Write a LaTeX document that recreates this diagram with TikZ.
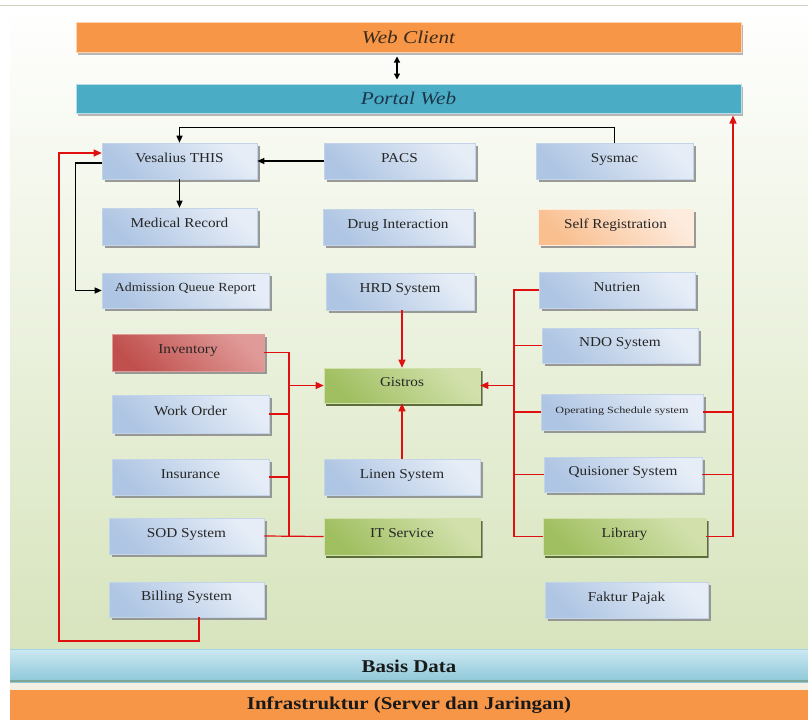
\documentclass[tikz,border=0pt]{standalone}
\usepackage{fontspec}
\setmainfont{Liberation Serif}
\newfontfamily\boxfont[FakeStretch=1.12]{Liberation Serif}
\newfontfamily\headfont[FakeStretch=1.18]{Liberation Serif Italic}
\newfontfamily\basefont[FakeStretch=1.16]{Liberation Serif Bold}
\newfontfamily\smallfont[FakeStretch=1.28]{Liberation Serif}
\usetikzlibrary{arrows.meta,shadows}

\definecolor{orangebar}{HTML}{F79646}
\definecolor{tealbar}{HTML}{4BACC6}
\definecolor{panelgreen}{HTML}{D7E4BD}
\definecolor{panelmid}{HTML}{F0F4E6}
\definecolor{boxlight}{HTML}{E6EDF7}
\definecolor{boxdark}{HTML}{AEC5E3}
\definecolor{boxedge}{HTML}{C3D3E8}
\definecolor{shadowgray}{HTML}{8A8A8A}
\definecolor{greenlight}{HTML}{D2E1AC}
\definecolor{greendark}{HTML}{A0BF60}
\definecolor{greenshadow}{HTML}{55692E}
\definecolor{redlight}{HTML}{E09A98}
\definecolor{reddark}{HTML}{C0504D}
\definecolor{peachlight}{HTML}{FDEBDD}
\definecolor{peachdark}{HTML}{F9BF8F}
\definecolor{linkred}{HTML}{E01010}
\definecolor{headtext}{HTML}{3A2A1C}
\definecolor{portaltext}{HTML}{1C3548}
\definecolor{dbtop}{HTML}{CBE7F1}
\definecolor{dbmid}{HTML}{DDEFF5}
\definecolor{dbbottom}{HTML}{8CC7D8}
\definecolor{dbline}{HTML}{7FA396}
\definecolor{creamstrip}{HTML}{F4EFE5}

\tikzset{
  sysbox/.style={rectangle, draw=boxedge, line width=0.6pt,
    top color=boxlight, bottom color=boxdark, shading angle=-45,
    drop shadow={shadow xshift=2.5pt, shadow yshift=-2.5pt, fill=shadowgray, opacity=0.85},
    text height=9pt, text depth=7pt, inner sep=0pt,
    font=\boxfont\fontsize{13.6}{16}\selectfont, text=black!85},
  greenbox/.style={sysbox, draw=greenlight, top color=greenlight, bottom color=greendark,
    shading angle=-45,
    drop shadow={shadow xshift=2pt, shadow yshift=-3pt, fill=greenshadow, opacity=0.9}},
  redbox/.style={sysbox, draw=redlight, top color=redlight, bottom color=reddark,
    shading angle=-45},
  peachbox/.style={sysbox, draw=peachlight, top color=peachlight, bottom color=peachdark,
    shading angle=-45},
  bar/.style={rectangle, line width=1pt, inner sep=0pt,
    drop shadow={shadow xshift=2pt, shadow yshift=-2.5pt, fill=black!35, opacity=0.8}},
  blackarrow/.style={draw=black, line width=1.2pt, -{Triangle[length=7pt,width=6pt]}},
  redline/.style={draw=linkred, line width=1.2pt},
  redarrow/.style={redline, -{Triangle[length=8pt,width=7pt]}},
}

\begin{document}
\begin{tikzpicture}[x=1pt,y=-1pt]
\useasboundingbox (0,0) rectangle (808,720);
\fill[white] (0,0) rectangle (808,720);

% panel background
\shade[top color=white, middle color=panelmid, bottom color=panelgreen] (10,5) rectangle (808,650);
\draw[color=panelgreen!80!black!60, line width=1pt] (0,5) -- (808,5);

% top layers
\node[bar, fill=orangebar, draw=orangebar!40!white, minimum width=665, minimum height=30,
      font=\headfont\fontsize{18}{20}\selectfont, text=headtext] (client) at (408.5,37) {Web Client};
\node[bar, fill=tealbar, draw=tealbar!40!white, minimum width=665, minimum height=29,
      font=\headfont\fontsize{18}{20}\selectfont, text=portaltext] (portal) at (408.5,98.5) {Portal Web};

% application systems
\node[sysbox, minimum width=155, minimum height=36] (ves) at (179.5,161) {Vesalius THIS};
\node[sysbox, minimum width=151, minimum height=36] (pacs) at (399.5,161) {PACS};
\node[sysbox, minimum width=157, minimum height=36] (sysmac) at (614.5,161) {Sysmac};
\node[sysbox, minimum width=155, minimum height=37] (medrec) at (179.5,226.5) {Medical Record};
\node[sysbox, minimum width=150, minimum height=36] (drug) at (398,227) {Drug Interaction};
\node[peachbox, minimum width=155, minimum height=36] (selfreg) at (615.5,227) {Self Registration};
\node[sysbox, minimum width=167, minimum height=35,
      font=\boxfont\fontsize{12.4}{14}\selectfont] (adm) at (185.5,290.5) {Admission Queue Report};
\node[sysbox, minimum width=148, minimum height=37] (hrd) at (400,291.5) {HRD System};
\node[sysbox, minimum width=156, minimum height=36] (nutrien) at (617,290) {Nutrien};
\node[sysbox, minimum width=156, minimum height=35] (ndo) at (620,345.5) {NDO System};
\node[greenbox, minimum width=156, minimum height=35] (gistros) at (402,385.5) {Gistros};
\node[redbox, minimum width=152, minimum height=37] (inventory) at (188,352.5) {Inventory};
\node[sysbox, minimum width=157, minimum height=38] (workorder) at (190.5,414) {Work Order};
\node[sysbox, minimum width=162, minimum height=36,
      font=\smallfont\fontsize{9.5}{11}\selectfont] (opsched) at (622,412) {Operating Schedule system};
\node[sysbox, minimum width=157, minimum height=36] (insurance) at (190.5,477) {Insurance};
\node[sysbox, minimum width=156, minimum height=36] (linen) at (402,477) {Linen System};
\node[sysbox, minimum width=158, minimum height=35] (quis) at (623,474.5) {Quisioner System};
\node[sysbox, minimum width=155, minimum height=36] (sod) at (186.5,536) {SOD System};
\node[greenbox, minimum width=156, minimum height=37] (it) at (402,536.5) {IT Service};
\node[greenbox, minimum width=163, minimum height=37] (library) at (624.5,536.5) {Library};
\node[sysbox, minimum width=155, minimum height=35] (billing) at (186.5,599.5) {Billing System};
\node[sysbox, minimum width=163, minimum height=36] (faktur) at (626.5,600) {Faktur Pajak};

% bottom layers
\node[rectangle, inner sep=0pt, minimum width=798, minimum height=32,
      top color=dbtop, middle color=dbmid, bottom color=dbbottom,
      font=\basefont\fontsize{18}{20}\selectfont, text=black!90] (basis) at (409,666) {Basis Data};
\draw[color=dbtop!70!tealbar, line width=1pt] (basis.north west) -- (basis.north east);
\draw[color=dbline, line width=2.5pt] ([yshift=1.2pt]basis.south west) -- ([yshift=1.2pt]basis.south east);
\fill[creamstrip] (10,682.5) rectangle (808,690);
\node[rectangle, inner sep=0pt, minimum width=798, minimum height=30, fill=orangebar,
      font=\basefont\fontsize{18}{20}\selectfont, text=black!90] (infra) at (409,705) {Infrastruktur (Server dan Jaringan)};

% connector helper points
\coordinate (arrx) at (397,0);
\coordinate (lbus) at (289,385.5);
\coordinate (rbus) at (514,385.5);
\coordinate (outerbus) at (733,0);
\coordinate (loopcorner) at (59,641);

% web client <-> portal
\draw[draw=black, line width=1.2pt, {Triangle[length=6pt,width=6pt]}-{Triangle[length=6pt,width=6pt]},
      shorten <=4pt, shorten >=4pt] (client.south -| arrx) -- (portal.north -| arrx);

% black links around Vesalius THIS
\draw[blackarrow] (sysmac.north) -- ++(0,-15) -| (ves.north);
\draw[blackarrow] (pacs.west) -- (ves.east);
\draw[blackarrow] (ves.south) -- (medrec.north);
\draw[blackarrow] ([yshift=-2pt]ves.west) -- ++(-26,0) |- (adm.west);

% red links: left bus into Gistros
\draw[redline] (inventory.east) -| (sod.east -| lbus);
\draw[redline] (workorder.east) -- (workorder.east -| lbus);
\draw[redline] (insurance.east) -- (insurance.east -| lbus);
\draw[redline] (sod.east) -- (it.west);
\draw[redarrow] (lbus) -- (gistros.west);

% red links: vertical into Gistros
\draw[redarrow] (hrd.south -| gistros.north) -- (gistros.north);
\draw[redarrow] (linen.north) -- (gistros.south);

% red links: right bus into Gistros
\draw[redline] (nutrien.west) -| (library.west -| rbus);
\draw[redline] (ndo.west) -- (ndo.west -| rbus);
\draw[redline] (opsched.west) -- (opsched.west -| rbus);
\draw[redline] (quis.west) -- (quis.west -| rbus);
\draw[redline] (library.west) -- (library.west -| rbus);
\draw[redarrow] (rbus) -- (gistros.east);

% red links: outer bus up to Portal Web
\draw[redline] (opsched.east) -- (opsched.east -| outerbus);
\draw[redline] (quis.east) -- (quis.east -| outerbus);
\draw[redarrow, shorten >=2pt] (library.east) -| (portal.south -| outerbus);

% red loop from Billing System back to Vesalius THIS
\draw[redarrow] ([xshift=12.5pt]billing.south) |- (loopcorner) |- ([yshift=8pt]ves.west);
\end{tikzpicture}
\end{document}
